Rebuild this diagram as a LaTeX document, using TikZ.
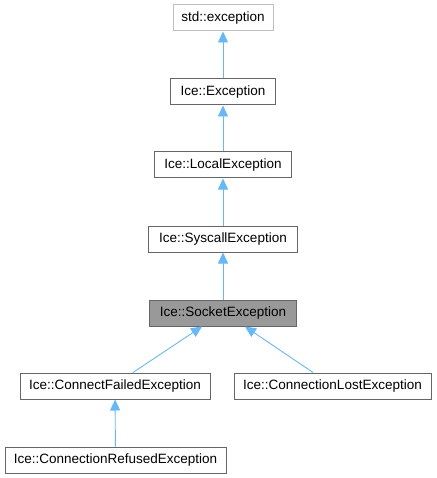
\documentclass[tikz,border=0pt]{standalone}
\usepackage{fontspec}
\setmainfont{Liberation Sans}
\usetikzlibrary{arrows.meta}
\definecolor{edgeblue}{HTML}{63B8FF}
\definecolor{boxline}{HTML}{666666}
\definecolor{extline}{HTML}{BFBFBF}
\definecolor{curfill}{HTML}{999999}
\begin{document}
\begin{tikzpicture}[x=1pt, y=-1pt,
    cls/.style={draw=boxline, line width=1pt, minimum height=26pt, inner sep=0pt,
      font=\fontsize{13.5}{16}\selectfont},
    inh/.style={draw=edgeblue, line width=0.9pt, -{Triangle[length=11pt,width=10pt,fill=edgeblue]}}]
    \useasboundingbox (0,0) rectangle (436,478);
    % class boxes
    \node[cls, draw=extline, minimum width=100pt] (stdexc) at (223,18) {std::exception};
    \node[cls, minimum width=105pt] (iceexc) at (223,92) {Ice::Exception};
    \node[cls, minimum width=137pt] (localexc) at (223,165) {Ice::LocalException};
    \node[cls, minimum width=149pt] (syscallexc) at (223,239) {Ice::SyscallException};
    \node[cls, fill=curfill, minimum width=147pt] (socketexc) at (223,313) {Ice::SocketException};
    \node[cls, minimum width=190pt] (failedexc) at (115,386) {Ice::ConnectFailedException};
    \node[cls, minimum width=197pt] (lostexc) at (332.5,386) {Ice::ConnectionLostException};
    \node[cls, minimum width=221pt] (refusedexc) at (115.5,460) {Ice::ConnectionRefusedException};
    % inheritance
    \draw[inh] (iceexc) -- (stdexc);
    \draw[inh] (localexc) -- (iceexc);
    \draw[inh] (syscallexc) -- (localexc);
    \draw[inh] (socketexc) -- (syscallexc);
    \draw[inh] ([xshift=18pt]failedexc.north) -- ([xshift=-21pt]socketexc.south);
    \draw[inh] ([xshift=-19.5pt]lostexc.north) -- ([xshift=22pt]socketexc.south);
    \draw[inh] (refusedexc) -- (failedexc);
\end{tikzpicture}
\end{document}
